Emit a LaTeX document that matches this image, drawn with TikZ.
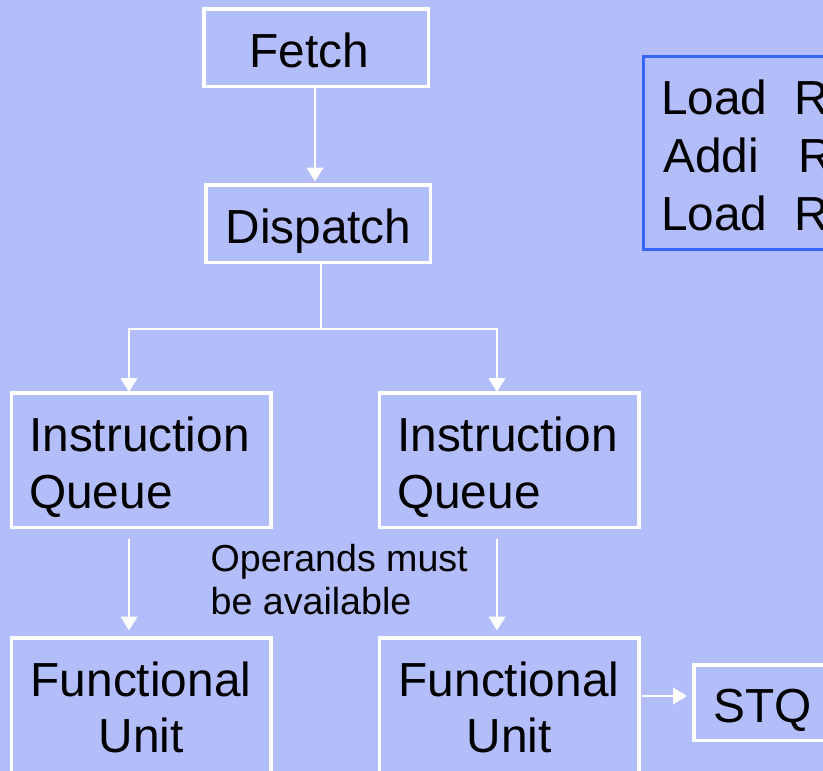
\documentclass[tikz,border=0pt]{standalone}
\usepackage{fontspec}
\setmainfont{Liberation Sans}
\usetikzlibrary{arrows.meta}
\definecolor{slidebg}{RGB}{179,189,250}
\definecolor{boxblue}{RGB}{51,102,255}

\begin{document}
\begin{tikzpicture}[x=1pt,y=-1pt,
  box/.style={draw=white, line width=3.5pt, inner sep=0pt,
    minimum width=259.5pt, minimum height=134.5pt},
  big/.style={font=\fontsize{47.8}{56}\selectfont, inner sep=0pt, text=black},
  small/.style={font=\fontsize{37.6}{44}\selectfont, inner sep=0pt, text=black},
  link/.style={draw=white, line width=2.6pt},
  arr/.style={link, -{Triangle[width=16.5pt,length=14pt]}}]

% slide background and page size
\fill[slidebg] (0,0) rectangle (823,771);
\useasboundingbox (0,0) rectangle (823,771);

% pipeline boxes
\node[box, minimum width=224.5pt, minimum height=77.5pt] (fetch) at (316,47.5) {};
\node[box, minimum width=224.5pt, minimum height=77.5pt] (dispatch) at (318,223.5) {};
\node[box] (iqL) at (141,460) {};
\node[box] (iqR) at (509,460) {};
\node[box] (fuL) at (141,705) {};
\node[box] (fuR) at (509,705) {};
\node[box, minimum width=136.5pt, minimum height=75.5pt] (stq) at (762,702.5) {};

% instruction listing box
\node[draw=boxblue, line width=3pt, inner sep=0pt,
      minimum width=260pt, minimum height=193pt] (prog) at (773.5,153) {};

% box labels
\node[big, anchor=base] (fetchT) at (309,67) {Fetch};
\node[big, anchor=base] (dispT) at (318.5,243) {Dispatch};
\node[big, anchor=base west] (iqL1) at (29,451) {Instruction};
\node[big, anchor=base west] (iqL2) at (29,508) {Queue};
\node[big, anchor=base west] (iqR1) at (397,451) {Instruction};
\node[big, anchor=base west] (iqR2) at (397,508) {Queue};
\node[big, anchor=base] (fuL1) at (141,696) {Functional};
\node[big, anchor=base] (fuL2) at (141,752) {Unit};
\node[big, anchor=base] (fuR1) at (509,696) {Functional};
\node[big, anchor=base] (fuR2) at (509,752) {Unit};
\node[big, anchor=base] (stqT) at (762.5,722) {STQ};

% listing lines
\node[big, anchor=base west] (op1) at (661,114) {Load};
\node[big, anchor=base west] (rg1) at (794,114) {R};
\node[big, anchor=base west] (op2) at (663,172) {Addi};
\node[big, anchor=base west] (rg2) at (798,172) {R};
\node[big, anchor=base west] (op3) at (661,230) {Load};
\node[big, anchor=base west] (rg3) at (794,230) {R};

% note between the queues
\node[small, anchor=base west] (note1) at (210.5,571) {Operands must};
\node[small, anchor=base west] (note2) at (210.5,614) {be available};

% connectors
\draw[arr, shorten >=1.5pt] ([xshift=-1pt]fetch.south) -- ([xshift=-1pt]fetch.south |- dispatch.north);
\coordinate (split) at (321,329);
\draw[link] ([xshift=3pt]dispatch.south) -- (split);
\draw[arr, shorten >=-1pt] (split) -| ([xshift=-12pt]iqL.north);
\draw[arr, shorten >=-1pt] (split) -| ([xshift=-12pt]iqR.north);
\draw[arr, shorten <=9.5pt, shorten >=5.5pt] ([xshift=-12pt]iqL.south) -- ([xshift=-12pt]fuL.north);
\draw[arr, shorten <=9.5pt, shorten >=5.5pt] ([xshift=-12pt]iqR.south) -- ([xshift=-12pt]fuR.north);
\draw[arr, shorten <=1.5pt, shorten >=5pt] ([yshift=9pt]fuR.east) -- ([yshift=9pt]fuR.east -| stq.west);
\end{tikzpicture}
\end{document}
